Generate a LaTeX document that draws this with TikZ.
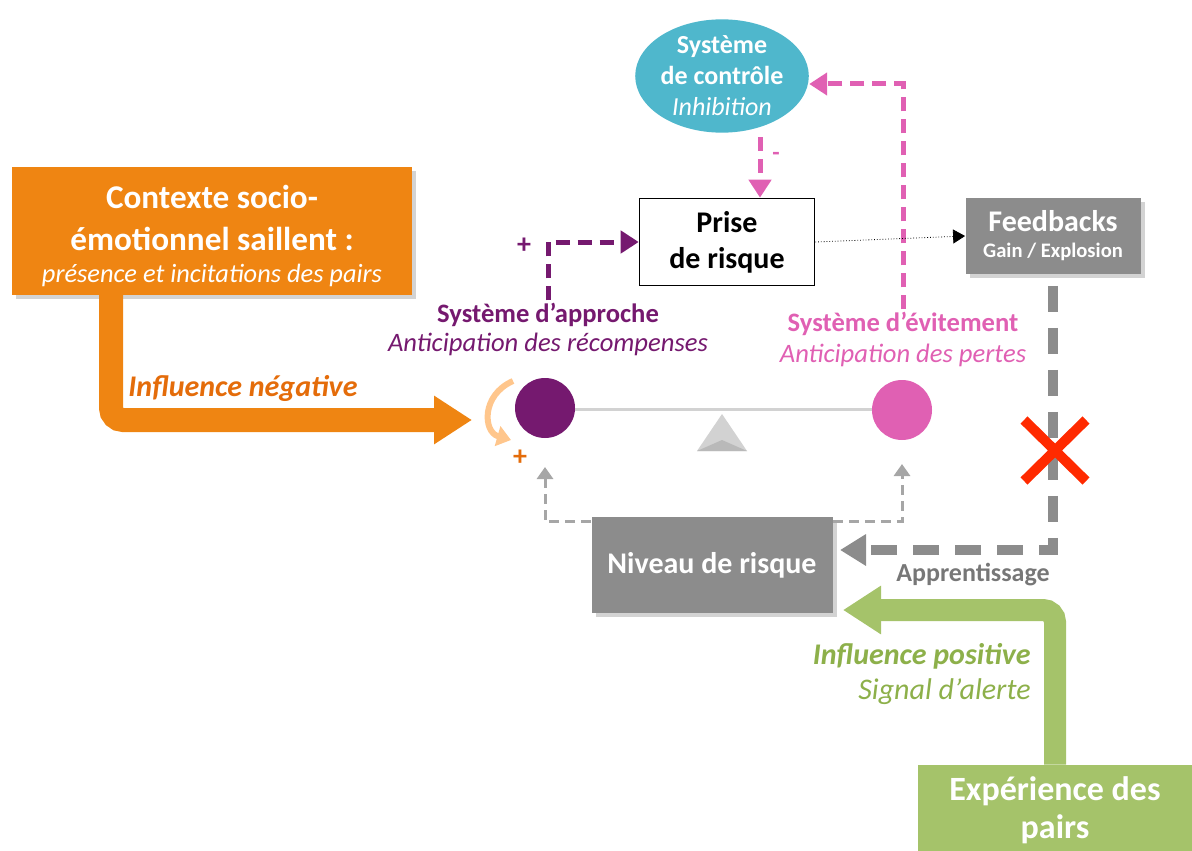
\documentclass[tikz,border=0pt]{standalone}
\usepackage{fontspec}
\setmainfont{Carlito}
\usetikzlibrary{arrows.meta,shapes.geometric,shadows,positioning}
\definecolor{orangebox}{HTML}{EF8512}
\definecolor{orangetxt}{HTML}{E46C0A}
\definecolor{approche}{HTML}{75196F}
\definecolor{evitement}{HTML}{E060B3}
\definecolor{bleuctrl}{HTML}{4FB7CC}
\definecolor{grisbox}{HTML}{8C8C8C}
\definecolor{vertbox}{HTML}{A5C36A}
\definecolor{verttxt}{HTML}{8DB04A}
\definecolor{rouge}{HTML}{FF2A00}
\newcommand{\fs}[2]{\fontsize{#1}{#2}\selectfont}
\begin{document}
\begin{tikzpicture}[x=0.5pt,y=-0.5pt,
	boite/.style={rectangle,text=white,align=center,inner sep=2pt,
		drop shadow={shadow xshift=2pt,shadow yshift=-2pt,opacity=.35}},
	lbl/.style={align=center,inner sep=1pt},
	pointilles/.style={line width=2.5pt,dash pattern=on 7pt off 4pt},
	fleche/.style={-{Triangle[length=9pt,width=11pt]}}]
\useasboundingbox (0,0) rectangle (1192,850);
% boites
\node[boite,fill=orangebox,minimum width=200pt,minimum height=63.5pt,font=\fs{16.6}{21}] (ctx) at (212,231)
	{\rule{0pt}{17pt}\textbf{Contexte socio-}\\\textbf{émotionnel saillent :}\\[-5pt]{\fs{13.2}{16}\itshape présence et incitations des pairs}};
\node[ellipse,fill=bleuctrl,text=white,align=center,minimum width=82pt,minimum height=55pt,inner sep=0pt,font=\fs{13}{15.5}] (ctrl) at (722,76)
	{\textbf{Système}\\\textbf{de contrôle}\\\textit{Inhibition}};
\node[draw=black,line width=.8pt,fill=white,align=center,font=\fs{15}{18}\bfseries,minimum width=87.5pt,minimum height=43.5pt] (prise) at (727,242)
	{Prise\\de risque};
\node[boite,fill=grisbox,minimum width=87.5pt,minimum height=37.5pt,font=\fs{15}{15}\bfseries] (feed) at (1053,236)
	{Feedbacks\\[-2pt]{\fs{10.3}{12}Gain / Explosion}};
\node[boite,fill=grisbox,minimum width=120.5pt,minimum height=48pt,font=\fs{15}{18}\bfseries] (niveau) at (712,565)
	{Niveau de risque};
\node[boite,fill=vertbox,minimum width=137pt,minimum height=45pt,font=\fs{17}{19}\bfseries] (exper) at (1055,810)
	{Expérience des\\pairs};
% balance
\draw[gray!35,line width=1.5pt] (545,409) -- (902,409);
\fill[gray!35] (697,451) -- (722,414) -- (747,451) -- cycle;
\fill[gray!55] (697,451) -- (722,440) -- (747,451) -- cycle;
\node[circle,fill=approche,minimum size=30pt,inner sep=0pt] (appr) at (545,408) {};
\node[circle,fill=evitement,minimum size=30pt,inner sep=0pt] (evit) at (902,410) {};
% etiquettes
\node[lbl,text=approche,font=\fs{13.3}{14.5}] (apprlbl) at (548,329)
	{\textbf{Système d’approche}\\\textit{Anticipation des récompenses}};
\node[lbl,text=evitement,font=\fs{13.3}{15.5}] (evitlbl) at (903,339)
	{\textbf{Système d’évitement}\\\textit{Anticipation des pertes}};
\node[lbl,text=orangetxt,font=\fs{15}{16}\bfseries\itshape] (negtxt) at (243,388) {Influence négative};
\node[lbl,text=grisbox!85!black,font=\fs{13}{13}\bfseries] (apptxt) at (973,575) {Apprentissage};
\node[lbl,text=verttxt,align=right,anchor=east,font=\fs{15}{17.5}] (postxt) at (1033,674)
	{\textbf{\textit{Influence positive}}\\\textit{Signal d’alerte}};
\node[lbl,text=approche,font=\fs{14}{14}\bfseries] at (524,246) {+};
\node[lbl,text=evitement,font=\fs{12}{12}\bfseries] at (776,156) {-};
\node[lbl,text=orangetxt,font=\fs{14}{14}\bfseries] at (520,458) {+};
% fleches
\coordinate (negfin) at (472,420);
\coordinate (posfin) at (843,610);
\coordinate (appfin) at (840,550);
\coordinate (apprbas) at (545,467);
\coordinate (evitbas) at (902,464);
\draw[orangebox,line width=12pt,rounded corners=6pt,-{Triangle[length=19pt,width=23pt]}]
	([xshift=-50.5pt]ctx.south) |- (negfin);
\draw[vertbox,line width=11pt,rounded corners=6pt,-{Triangle[length=19pt,width=23pt]}]
	(exper.north) |- (posfin);
\draw[grisbox,line width=5pt,dash pattern=on 13pt off 8pt,-{Triangle[length=13pt,width=15pt]}]
	([yshift=-6pt]feed.south) |- (appfin);
\draw[approche,pointilles,fleche] (apprlbl.north) |- (prise.west);
\draw[evitement,pointilles,fleche] (evitlbl.north) |- ([yshift=-4pt]ctrl.east);
\draw[evitement,pointilles,fleche] ([xshift=19pt,yshift=-2pt]ctrl.south) -- ([xshift=16.5pt]prise.north);
\draw[black,densely dotted,thin,-{Triangle[length=6pt,width=7pt]}] (prise.east) -- (feed.west);
\draw[gray!70,line width=1.5pt,dash pattern=on 5pt off 3pt,-{Triangle[length=6pt,width=8pt]}]
	([yshift=-2.5pt]niveau.north west) -| (apprbas);
\draw[gray!70,line width=1.5pt,dash pattern=on 5pt off 3pt,-{Triangle[length=6pt,width=8pt]}]
	([yshift=-2.5pt]niveau.north east) -| (evitbas);
\draw[orange!45,line width=3pt,-{Triangle[length=7pt,width=10pt]}]
	(513,381) .. controls (481,395) and (483,432) .. (511,440);
% croix
\draw[rouge,line width=5pt] (1024,420) -- (1086,481) (1086,420) -- (1024,481);
\end{tikzpicture}
\end{document}
